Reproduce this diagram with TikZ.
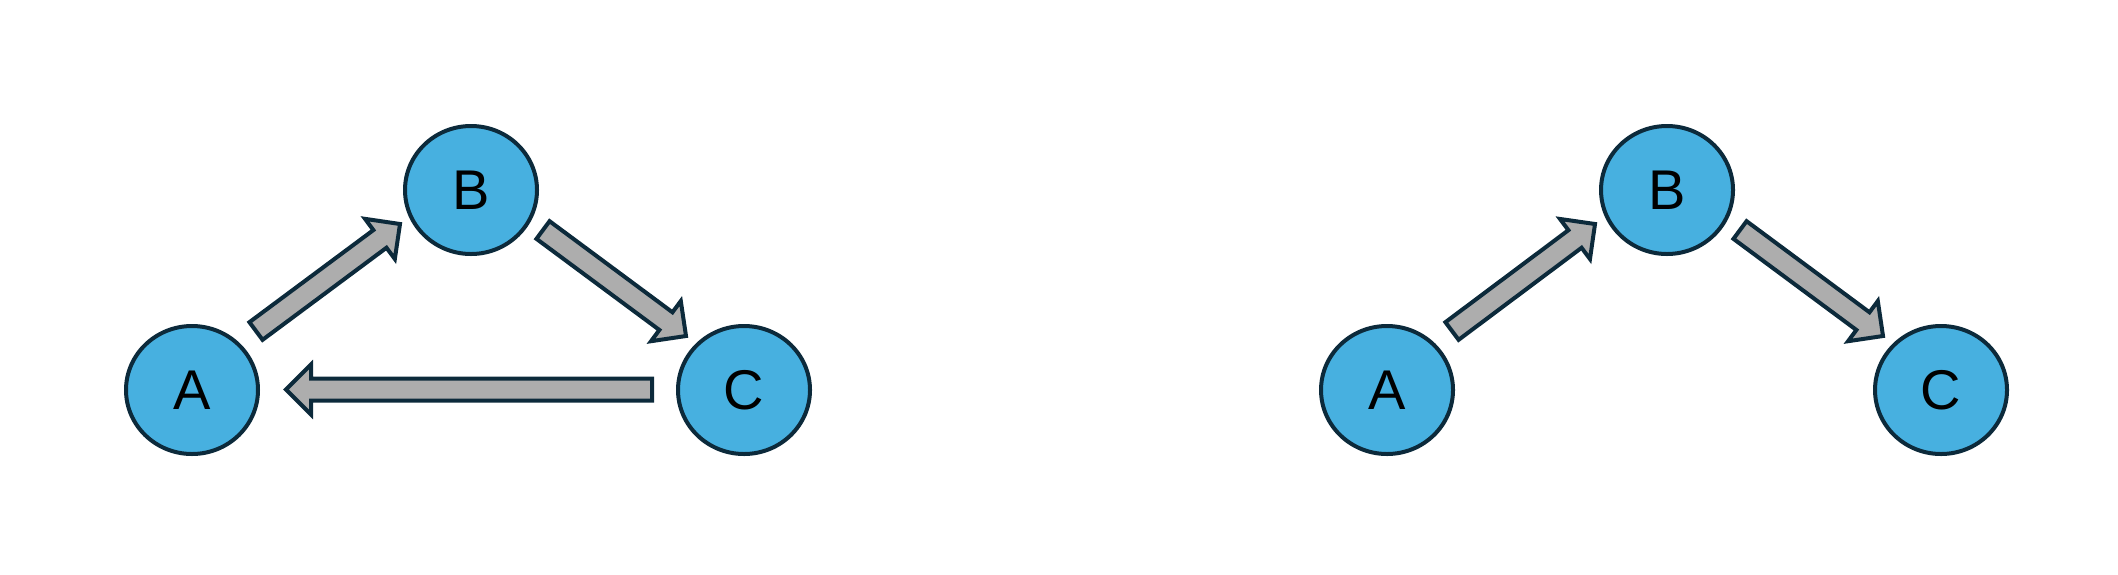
\documentclass[tikz,border=0pt]{standalone}
\usepackage{fontspec}
\setmainfont{Liberation Sans}
\usetikzlibrary{calc,shapes.geometric}
\definecolor{nodeblue}{HTML}{47B0E0}
\definecolor{edgedark}{HTML}{0C2A3B}
\definecolor{arrowgray}{HTML}{ADADAD}
\tikzset{
  circ/.style={ellipse, draw=edgedark, line width=2pt, fill=nodeblue,
    minimum width=132*0.5pt, minimum height=128*0.5pt, inner sep=0pt,
    font=\fontsize{28}{28}\selectfont},
  fatarrow/.style={draw=edgedark, fill=arrowgray, line width=2pt, line join=miter},
}
\newcommand{\fatarr}[2]{%
  \coordinate (hh) at ($(#2)!12.5pt!(#1)$);
  \draw[fatarrow] ($(#1)!5.5pt!90:(#2)$) -- ($(hh)!5.5pt!90:(#2)$) -- ($(hh)!12.5pt!90:(#2)$)
    -- (#2) -- ($(hh)!12.5pt!-90:(#2)$) -- ($(hh)!5.5pt!-90:(#2)$) -- ($(#1)!5.5pt!-90:(#2)$) -- cycle;}
\begin{document}
\begin{tikzpicture}[x=0.5pt,y=-0.5pt]
\useasboundingbox (0,0) rectangle (2118,574);
% left graph
\node[circ] (A1) at (192,390) {A};
\node[circ] (B1) at (471,190) {B};
\node[circ] (C1) at (744,390) {C};
\coordinate (ab1s) at (256,331); \coordinate (ab1e) at (400,224);
\coordinate (bc1s) at (543,230); \coordinate (bc1e) at (686,336);
\coordinate (ca1s) at (652,389.5); \coordinate (ca1e) at (286,389.5);
\fatarr{ab1s}{ab1e}
\fatarr{bc1s}{bc1e}
\fatarr{ca1s}{ca1e}
% right graph
\node[circ] (A2) at (1387,390) {A};
\node[circ] (B2) at (1667,190) {B};
\node[circ] (C2) at (1941,390) {C};
\coordinate (ab2s) at (1452,331); \coordinate (ab2e) at (1595,224);
\coordinate (bc2s) at (1740,230); \coordinate (bc2e) at (1883,336);
\fatarr{ab2s}{ab2e}
\fatarr{bc2s}{bc2e}
\end{tikzpicture}
\end{document}
